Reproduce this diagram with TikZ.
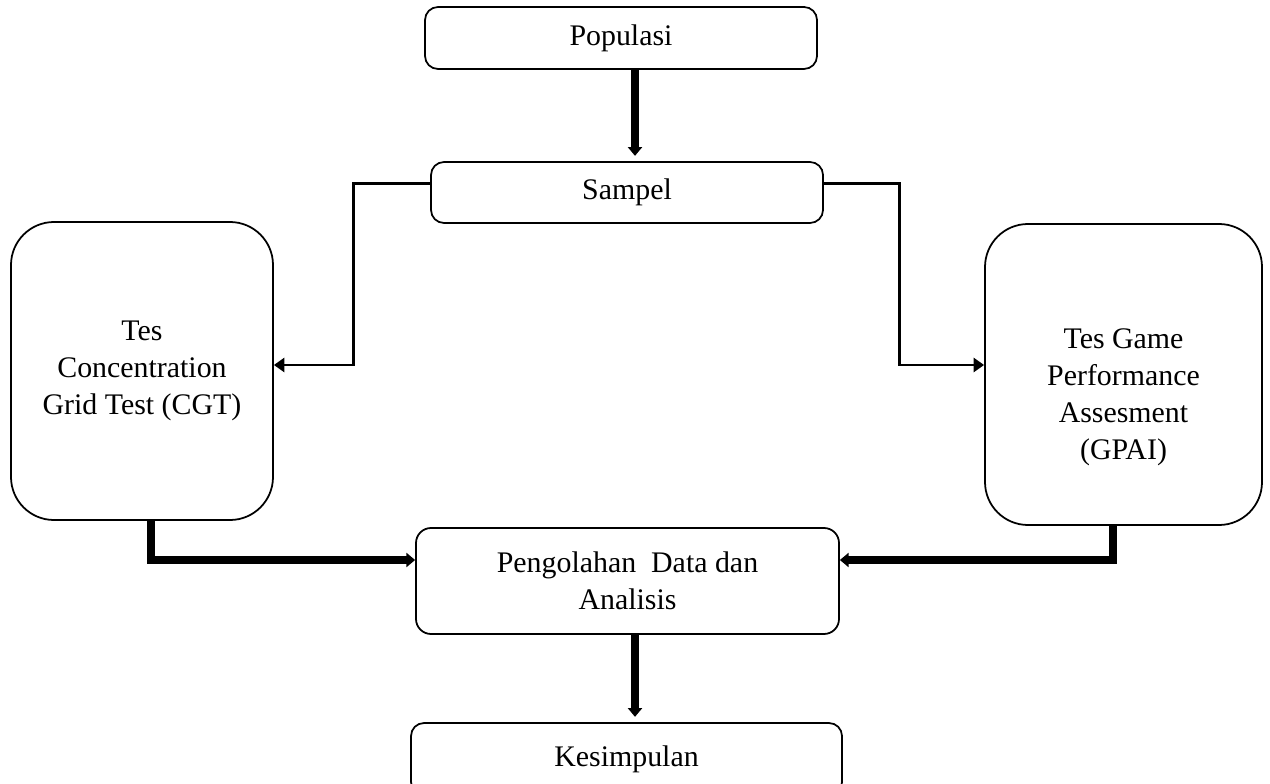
\documentclass[tikz,border=0pt]{standalone}
\usepackage{fontspec}
\setmainfont{Liberation Serif}
\usetikzlibrary{arrows.meta}
\begin{document}
\begin{tikzpicture}
        \useasboundingbox (0,0) rectangle (25.4,-15.68);
        \begin{scope}[every node/.style={draw=black,line width=1pt,rounded corners=0.26cm,align=center,inner sep=0pt,font=\fontsize{17}{21}\selectfont}]
          \node[minimum width=7.84cm,minimum height=1.24cm] (pop)  at (12.42,-0.76)  {Populasi};
          \node[minimum width=7.84cm,minimum height=1.22cm] (sam)  at (12.54,-3.85)  {Sampel};
          \node[minimum width=5.24cm,minimum height=5.96cm,rounded corners=0.86cm] (cgt)  at (2.84,-7.42)   {Tes\\ Concentration\\ Grid Test (CGT)};
          \node[minimum width=5.54cm,minimum height=6.02cm,rounded corners=0.86cm] (gpai) at (22.47,-7.49)
            {\raisebox{-0.44cm}[\height][\depth]{\begin{tabular}{@{}c@{}}Tes Game\\ Performance\\ Assesment\\ (GPAI)\end{tabular}}};
          \node[minimum width=8.46cm,minimum height=2.12cm,rounded corners=0.3cm]  (peng) at (12.55,-11.62) {Pengolahan\ \ Data dan\\ Analisis};
          \node[minimum width=8.62cm,minimum height=1.44cm] (kes)  at (12.53,-15.18) {Kesimpulan};
        \end{scope}
        \begin{scope}[thin link/.style={draw=black,line width=1.7pt,-{Triangle[width=8pt,length=6pt]}},
                      thick link/.style={draw=black,line width=4.5pt,-{Triangle[width=8pt,length=5pt]}}]
          \draw[thick link,shorten >=3pt] ([xshift=0.28cm]pop.south) -- ([xshift=0.16cm]sam.north);
          \draw[thin link] ([yshift=0.18cm]sam.west) -| ([xshift=1.6cm,yshift=0.12cm]cgt.east) -- ([yshift=0.12cm]cgt.east);
          \draw[thin link] ([yshift=0.18cm]sam.east) -| ([xshift=-1.7cm,yshift=0.19cm]gpai.west) -- ([yshift=0.19cm]gpai.west);
          \draw[thick link] ([xshift=0.18cm]cgt.south) |- ([yshift=0.42cm]peng.west);
          \draw[thick link] ([xshift=-0.21cm]gpai.south) |- ([yshift=0.42cm]peng.east);
          \draw[thick link,shorten >=3pt] ([xshift=0.15cm]peng.south) -- ([xshift=0.15cm]peng.south |- kes.north);
        \end{scope}
      \end{tikzpicture}
\end{document}
